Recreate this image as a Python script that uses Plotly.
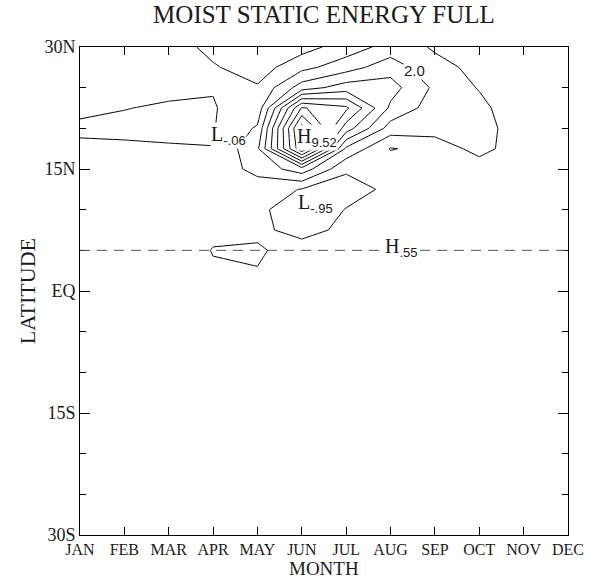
import plotly.graph_objects as go

# ---------------- data ----------------
MONTHS = ["JAN", "FEB", "MAR", "APR", "MAY", "JUN", "JUL", "AUG", "SEP", "OCT", "NOV", "DEC"]
LAT_TICKS = [-30, -15, 0, 15, 30]
LAT_TICK_TEXT = ["30S", "15S", "EQ", "15N", "30N"]

# latitude rows, listed from 30N down to 30S
LATS_DESC = [30.0, 27.5, 25.0, 22.5, 20.0, 17.5, 15.0, 12.5, 10.0, 7.5, 5.0, 2.5, 0.0,
             -2.5, -5.0, -7.5, -10.0, -12.5, -15.0, -17.5, -20.0, -22.5, -25.0, -27.5, -30.0]

# moist static energy anomaly, rows = LATS_DESC, columns = MONTHS
MSE_NORTH = [
    [0.40, 0.45, 0.51, -0.30, -0.40, -0.40, 0.47, 1.38, 0.92, 0.70, 0.50, 0.40],   # 30.0
    [0.40, 0.40, 0.35, 0.10, -0.50, 0.70, 1.55, 2.60, 1.20, 0.83, 0.50, 0.40],     # 27.5
    [0.30, 0.20, 0.04, 0.03, 0.11, 2.50, 3.50, 3.40, 1.80, 0.93, 0.50, 0.40],      # 25.0
    [0.035, 0.005, -0.02, -0.04, 0.36, 7.10, 6.20, 2.80, 1.50, 1.30, 0.19, 0.30],  # 22.5
    [-0.03, -0.04, -0.05, -0.06, 1.14, 9.52, 4.50, 1.55, 1.50, 1.60, 0.17, 0.30],  # 20.0
    [0.034, 0.03, 0.019, 0.01, 1.81, 8.90, 1.80, -0.06, 0.31, 1.40, 0.30, 0.35],   # 17.5
    [0.40, 0.40, 0.40, 0.40, 1.30, 2.58, 0.17, 0.60, 0.50, 0.40, 0.35, 0.40],      # 15.0
    [0.40, 0.40, 0.40, 0.45, 0.50, -0.05, -0.50, 0.25, 0.40, 0.40, 0.40, 0.40],    # 12.5
    [0.40, 0.40, 0.40, 0.40, 0.35, -0.95, 0.05, 0.30, 0.40, 0.40, 0.40, 0.40],     # 10.0
    [0.40, 0.40, 0.35, 0.10, 0.25, -0.40, 0.27, 0.40, 0.40, 0.40, 0.40, 0.40],     # 7.5
    [0.35, 0.35, 0.30, -0.02, -0.15, 0.50, 0.40, 0.55, 0.45, 0.40, 0.40, 0.40],    # 5.0
    [0.35, 0.35, 0.30, 0.05, 0.04, 0.30, 0.40, 0.45, 0.40, 0.40, 0.40, 0.40],      # 2.5
    [0.35, 0.35, 0.35, 0.30, 0.30, 0.35, 0.40, 0.40, 0.40, 0.40, 0.40, 0.40],      # 0.0
]
MSE_SOUTH = [
    [0.40, 0.40, 0.38, 0.35, 0.35, 0.38, 0.42, 0.42, 0.40, 0.40, 0.40, 0.40],      # -2.5
    [0.42, 0.42, 0.40, 0.38, 0.38, 0.40, 0.43, 0.43, 0.42, 0.42, 0.42, 0.42],      # -5.0
    [0.44, 0.43, 0.42, 0.40, 0.40, 0.42, 0.44, 0.44, 0.43, 0.43, 0.43, 0.44],      # -7.5
    [0.45, 0.44, 0.43, 0.42, 0.42, 0.43, 0.45, 0.45, 0.44, 0.44, 0.44, 0.45],      # -10.0
    [0.46, 0.45, 0.44, 0.43, 0.43, 0.44, 0.46, 0.46, 0.45, 0.45, 0.45, 0.46],      # -12.5
    [0.47, 0.46, 0.45, 0.44, 0.44, 0.45, 0.47, 0.47, 0.46, 0.46, 0.46, 0.47],      # -15.0
    [0.48, 0.47, 0.46, 0.45, 0.45, 0.46, 0.48, 0.48, 0.47, 0.47, 0.47, 0.48],      # -17.5
    [0.49, 0.48, 0.47, 0.46, 0.46, 0.47, 0.49, 0.49, 0.48, 0.48, 0.48, 0.49],      # -20.0
    [0.50, 0.49, 0.48, 0.47, 0.47, 0.48, 0.50, 0.50, 0.49, 0.49, 0.49, 0.50],      # -22.5
    [0.51, 0.50, 0.49, 0.48, 0.48, 0.49, 0.51, 0.51, 0.50, 0.50, 0.50, 0.51],      # -25.0
    [0.52, 0.51, 0.50, 0.49, 0.49, 0.50, 0.52, 0.52, 0.51, 0.51, 0.51, 0.52],      # -27.5
    [0.53, 0.52, 0.51, 0.50, 0.50, 0.51, 0.53, 0.53, 0.52, 0.52, 0.52, 0.53],      # -30.0
]

# extrema markers: (letter, value text, month position, latitude)
EXTREMA = [
    ("H", "9.52", 4.87, 18.9),
    ("L", "-.06", 2.92, 19.1),
    ("L", "-.95", 4.89, 10.7),
    ("H", ".55", 6.85, 5.3),
]
CONTOUR_LABELS = [("2.0", 7.54, 27.05)]
REF_LAT = 5.0

# ---------------- figure ----------------
lats = list(reversed(LATS_DESC))
z = list(reversed(MSE_NORTH + MSE_SOUTH))
xs = list(range(len(MONTHS)))

SERIF = "Liberation Serif"
SANS = "Liberation Sans"
INK = "#1a1a1a"

fig = go.Figure()
fig.add_trace(go.Contour(
    x=xs, y=lats, z=z,
    autocontour=False,
    contours=dict(start=0, end=9, size=1, coloring="lines", showlabels=False),
    colorscale=[[0, "black"], [1, "black"]],
    line=dict(width=1, smoothing=0),
    showscale=False, hoverinfo="skip",
))

fig.add_hline(y=REF_LAT, line=dict(color="#555555", width=1, dash="10px,7px"))

annotations = []
for letter, val, mx, lat in EXTREMA:
    annotations.append(dict(
        x=mx, y=lat, xref="x", yref="y", xanchor="left", yanchor="middle",
        showarrow=False, bgcolor="white", borderpad=0,
        text=(f"<span style='font-family:{SERIF};font-size:20px'>{letter}</span>"
              f"<sub><span style='font-family:{SANS};font-size:13px'>{val}</span></sub>"),
        font=dict(color=INK, size=20),
    ))
for txt, mx, lat in CONTOUR_LABELS:
    annotations.append(dict(
        x=mx, y=lat, xref="x", yref="y", xanchor="center", yanchor="middle",
        showarrow=False, bgcolor="white", borderpad=0, text=txt,
        font=dict(family=SANS, size=15, color=INK),
    ))
annotations.append(dict(
    x=0.5, y=-(45.0 / 488.0), xref="paper", yref="paper", xanchor="center", yanchor="bottom",
    showarrow=False, borderpad=0, text="MONTH", font=dict(family=SERIF, size=19, color=INK),
))
annotations.append(dict(
    x=-0.108, y=0.5, xref="paper", yref="paper", xanchor="center", yanchor="middle",
    showarrow=False, text="LATITUDE", textangle=-90,
    font=dict(family=SERIF, size=22, color=INK),
))

fig.update_layout(
    width=596, height=580,
    margin=dict(l=80, r=26, t=47, b=45),
    paper_bgcolor="white", plot_bgcolor="white",
    title=dict(text="MOIST STATIC ENERGY FULL", x=0.5, xref="paper", xanchor="center",
               y=1, yref="container", yanchor="top", pad=dict(t=5),
               font=dict(family=SERIF, size=25, color=INK)),
    showlegend=False,
    annotations=annotations,
)
fig.update_xaxes(
    range=[0, 11], tickvals=xs, ticktext=MONTHS,
    ticks="inside", ticklen=8, tickwidth=1, tickcolor="black",
    showline=True, linecolor="black", linewidth=1, mirror="ticks",
    showgrid=False, zeroline=False,
    tickfont=dict(family=SERIF, size=16, color=INK),
)
fig.update_yaxes(
    range=[-30, 30], tickvals=LAT_TICKS, ticktext=LAT_TICK_TEXT,
    ticks="inside", ticklen=10, tickwidth=1, tickcolor="black",
    minor=dict(dtick=5, ticks="inside", ticklen=6, tickcolor="black", showgrid=False),
    showline=True, linecolor="black", linewidth=1, mirror="ticks",
    showgrid=False, zeroline=False,
    tickfont=dict(family=SERIF, size=18, color=INK),
)

fig.write_html("out.html")
